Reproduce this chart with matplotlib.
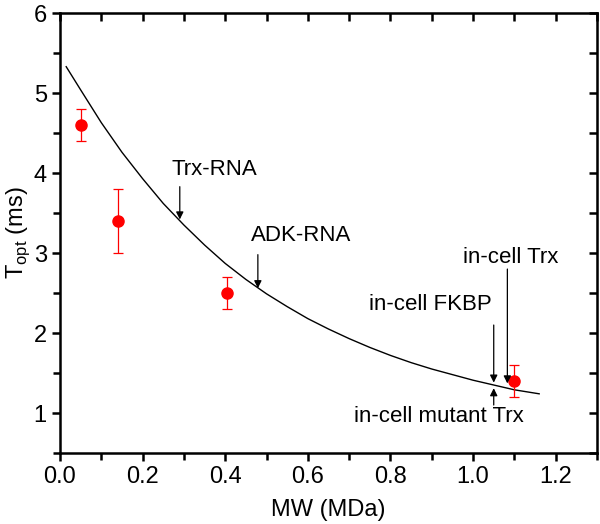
import matplotlib
matplotlib.use("Agg")
from matplotlib import pyplot as plt
from matplotlib.ticker import MultipleLocator, FormatStrFormatter

plt.rcParams["font.family"] = ["Liberation Sans", "DejaVu Sans"]
plt.rcParams["mathtext.fontset"] = "custom"
plt.rcParams["mathtext.rm"] = "Liberation Sans"

# measured points
mw = [0.05, 0.14, 0.405, 1.10]
topt = [4.60, 3.40, 2.50, 1.40]
topt_err = [0.20, 0.40, 0.20, 0.20]

# fitted curve
curve_x = [0.015, 0.05, 0.10, 0.15, 0.20, 0.25, 0.30, 0.35, 0.40, 0.45, 0.50,
           0.55, 0.60, 0.65, 0.70, 0.75, 0.80, 0.85, 0.90, 0.95, 1.00, 1.05,
           1.10, 1.16]
curve_y = [5.33, 5.04, 4.63, 4.26, 3.93, 3.62, 3.35, 3.10, 2.87, 2.67, 2.49,
           2.33, 2.18, 2.05, 1.93, 1.82, 1.72, 1.63, 1.55, 1.48, 1.41, 1.35,
           1.29, 1.24]

# annotations: label, label x, label y, arrow x, tail y, tip y
labels = ["Trx-RNA", "ADK-RNA", "in-cell Trx", "in-cell FKBP", "in-cell mutant Trx"]
label_x = [0.374, 0.583, 1.09, 0.897, 0.917]
label_y = [4.04, 3.22, 2.94, 2.36, 0.96]
arrow_x = [0.29, 0.479, 1.083, 1.05, 1.05]
tail_y = [3.83, 2.98, 2.80, 2.10, 1.10]
tip_y = [3.42, 2.56, 1.37, 1.38, 1.31]

fig = plt.figure(figsize=(6.0, 5.24), dpi=100)
ax = fig.add_axes([0.1, 0.1355, 0.895, 0.8395])

ax.plot(curve_x, curve_y, color="black", lw=1.0)
ax.errorbar(mw, topt, yerr=topt_err, fmt="o", color="red", ms=8,
            elinewidth=0.9, capsize=3.6, capthick=0.9)

for text, lx, ly, axx, ty, py in zip(labels, label_x, label_y, arrow_x, tail_y, tip_y):
    ax.annotate("", xy=(axx, py), xytext=(axx, ty),
                arrowprops=dict(arrowstyle="-|>", color="black", lw=0.9,
                                mutation_scale=11, shrinkA=0, shrinkB=0))
    ax.text(lx, ly, text, fontsize=16, ha="center", va="center")

ax.set_xlim(0, 1.3)
ax.set_ylim(0.5, 6)
ax.xaxis.set_major_locator(MultipleLocator(0.2))
ax.xaxis.set_minor_locator(MultipleLocator(0.1))
ax.yaxis.set_major_locator(MultipleLocator(1))
ax.yaxis.set_minor_locator(MultipleLocator(0.5))
ax.xaxis.set_major_formatter(FormatStrFormatter("%.1f"))

for sp in ax.spines.values():
    sp.set_linewidth(1.8)
ax.tick_params(which="major", direction="out", length=6, width=1.8, labelsize=17)
ax.tick_params(which="minor", direction="out", length=5, width=1.8)

# mirrored ticks on top and right, pointing in
top = ax.secondary_xaxis("top")
top.xaxis.set_major_locator(MultipleLocator(0.1))
top.tick_params(direction="in", length=6, width=1.8, labeltop=False)
right = ax.secondary_yaxis("right")
right.yaxis.set_major_locator(MultipleLocator(0.5))
right.tick_params(direction="in", length=6, width=1.8, labelright=False)

ax.set_xlabel("MW (MDa)", fontsize=17, labelpad=8)
ax.set_ylabel(r"T$_{\mathrm{opt}}$ (ms)", fontsize=17, labelpad=1)

fig.savefig("out.png", dpi=100)
